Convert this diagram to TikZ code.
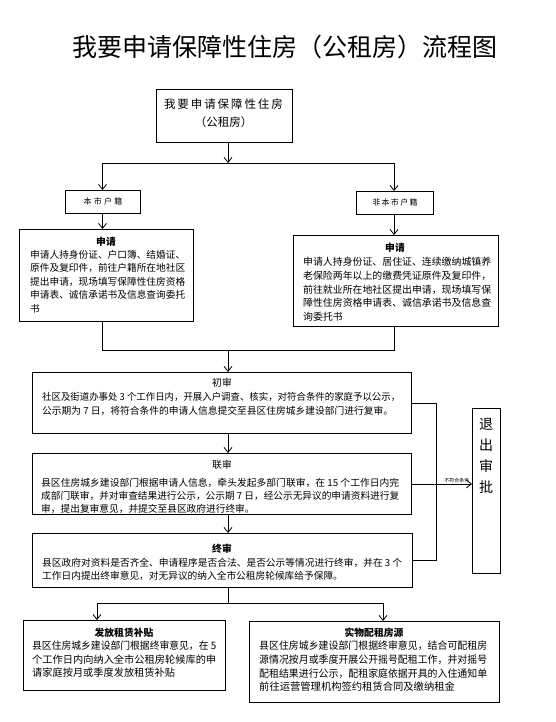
\documentclass[tikz,border=0pt]{standalone}
\usepackage{fontspec}
\usepackage{graphicx}
\setmainfont{Noto Sans CJK SC}
\usetikzlibrary{arrows.meta}
\newcommand\fitl[2]{\resizebox{#1}{\height}{#2}}
\begin{document}
\begin{tikzpicture}[x=1pt,y=-1pt,
  box/.style={draw=black, line width=0.9pt, inner sep=0pt, anchor=north west},
  conn/.style={draw=black, line width=0.8pt},
  arr/.style={conn, -{Straight Barb[length=5pt,width=8pt]}},
  body/.style={inner sep=0pt, anchor=north west, align=left},
  head/.style={inner sep=0pt, font=\fontsize{9.8}{12}\selectfont\bfseries},
  plainhead/.style={inner sep=0pt, font=\fontsize{9.8}{12}\selectfont},
]
\useasboundingbox[fill=white] (0,0) rectangle (556,722);

% title
\node[inner sep=0pt, font=\fontsize{25}{30}\selectfont] (title) at (285,47) {我要申请保障性住房（公租房）流程图};

% start box
\node[box, minimum width=136pt, minimum height=53pt] (start) at (156,89) {};
\node[inner sep=0pt, font=\fontsize{11.5}{14}\selectfont] (startA) at (223.5,104) {我\,要\,申\,请\,保\,障\,性\,住\,房};
\node[inner sep=0pt, font=\fontsize{11.5}{14}\selectfont] (startB) at (223.5,122) {（公租房）};

% household boxes
\node[box, minimum width=75pt, minimum height=23pt] (bsL) at (65,190) {};
\node[inner sep=0pt, font=\fontsize{8}{10}\selectfont] (bsLt) at (bsL.center) {本\hspace{2.3pt}市\hspace{2.3pt}户\hspace{2.3pt}籍};
\node[box, minimum width=77pt, minimum height=23pt] (bsR) at (356,191) {};
\node[inner sep=0pt, font=\fontsize{8}{10}\selectfont] (bsRt) at (bsR.center) {非\hspace{1.3pt}本\hspace{1.3pt}市\hspace{1.3pt}户\hspace{1.3pt}籍};

% application boxes
\node[box, minimum width=174pt, minimum height=92pt] (appL) at (19,229) {};
\node[head] (appLh) at (106,242) {申请};
\node[body, font=\fontsize{9.7}{13.5}\selectfont] (appLt) at (30,250) {\fitl{155pt}{申请人持身份证、户口簿、结婚证、}\\\fitl{155pt}{原件及复印件，前往户籍所在地社区}\\\fitl{155pt}{提出申请，现场填写保障性住房资格}\\\fitl{155pt}{申请表、诚信承诺书及信息查询委托}\\书};

\node[box, minimum width=205pt, minimum height=91pt] (appR) at (293,235) {};
\node[head] (appRh) at (395,248) {申请};
\node[body, font=\fontsize{9.9}{13.8}\selectfont] (appRt) at (303,257) {\fitl{188pt}{申请人持身份证、居住证、连续缴纳城镇养}\\\fitl{188pt}{老保险两年以上的缴费凭证原件及复印件，}\\\fitl{188pt}{前往就业所在地社区提出申请，现场填写保}\\\fitl{188pt}{障性住房资格申请表、诚信承诺书及信息查}\\询委托书};

% chu shen
\node[box, minimum width=379pt, minimum height=61pt] (chu) at (32,372) {};
\node[plainhead] (chuh) at (222,383) {初审};
\node[body, font=\fontsize{9.7}{14}\selectfont] (chut) at (42,392) {\fitl{358pt}{社区及街道办事处 3 个工作日内，开展入户调查、核实，对符合条件的家庭予以公示，}\\\fitl{351pt}{公示期为 7 日，将符合条件的申请人信息提交至县区住房城乡建设部门进行复审。}};

% lian shen
\node[box, minimum width=379pt, minimum height=61pt] (lian) at (32,453) {};
\node[plainhead] (lianh) at (222,465) {联审};
\node[body, font=\fontsize{9.7}{12.8}\selectfont] (liant) at (41,478) {\fitl{358pt}{县区住房城乡建设部门根据申请人信息，牵头发起多部门联审，在 15 个工作日内完}\\\fitl{358pt}{成部门联审，并对审查结果进行公示，公示期 7 日，经公示无异议的申请资料进行复}\\审，提出复审意见，并提交至县区政府进行终审。};

% zhong shen
\node[box, minimum width=380pt, minimum height=54pt] (zhong) at (32,533) {};
\node[head] (zhongh) at (222,549) {终审};
\node[body, font=\fontsize{9.7}{13}\selectfont] (zhongt) at (42,558) {\fitl{360pt}{县区政府对资料是否齐全、申请程序是否合法、是否公示等情况进行终审，并在 3 个}\\工作日内提出终审意见，对无异议的纳入全市公租房轮候库给予保障。};

% exit box
\node[box, minimum width=28pt, minimum height=165pt] (exit) at (472,408) {};
\node[inner sep=0pt, anchor=north, align=center, font=\fontsize{14}{21}\selectfont] (exitt) at (486,418) {退\\出\\审\\批};

% bottom boxes
\node[box, minimum width=202pt, minimum height=70pt] (fafang) at (23,620) {};
\node[head] (fafangh) at (124,633) {发放租赁补贴};
\node[body, font=\fontsize{10.2}{13.2}\selectfont] (fafangt) at (32,641) {\fitl{184pt}{县区住房城乡建设部门根据终审意见，在 5}\\\fitl{184pt}{个工作日内向纳入全市公租房轮候库的申}\\请家庭按月或季度发放租赁补贴};

\node[box, minimum width=250pt, minimum height=81pt] (shiwu) at (249,621) {};
\node[head] (shiwuh) at (374,633) {实物配租房源};
\node[body, font=\fontsize{10.3}{13.6}\selectfont] (shiwut) at (259,641) {\fitl{228pt}{县区住房城乡建设部门根据终审意见，结合可配租房}\\\fitl{228pt}{源情况按月或季度开展公开摇号配租工作，并对摇号}\\\fitl{228pt}{配租结果进行公示，配租家庭依据开具的入住通知单}\\前往运营管理机构签约租赁合同及缴纳租金};

% junction coordinates
\coordinate (j1) at (228,163);
\coordinate (hl) at (102.5,163);
\coordinate (hr) at (394,163);
\coordinate (m) at (228,350);
\coordinate (m2) at (228,603);
\coordinate (bl) at (97,603);
\coordinate (br) at (383,603);
\coordinate (rb) at (436,403);

% connectors
\draw[arr] (j1 |- start.south) -- (j1);
\draw[conn] (hl) -- (hr);
\draw[arr] (hl) -- (hl |- bsL.north);
\draw[arr] (hr) -- (hr |- bsR.north);
\draw[arr] (hl |- bsL.south) -- (hl |- appL.north);
\draw[arr] (hr |- bsR.south) -- (hr |- appR.north);
\draw[conn] (hl |- appL.south) -- (hl |- m) -- (hr |- m) -- (hr |- appR.south);
\draw[arr] (m) -- (m |- chu.north);
\draw[arr] (m |- chu.south) -- (m |- lian.north);
\draw[arr] (m |- lian.south) -- (m |- zhong.north);
\draw[conn] (m |- zhong.south) -- (m2);
\draw[conn] (bl) -- (br);
\draw[arr] (bl) -- (bl |- fafang.north);
\draw[arr] (br) -- (br |- shiwu.north);
\draw[conn] (chu.east) -- (chu.east -| rb) -- (zhong.east -| rb) -- (zhong.east);
\draw[arr] (lian.east) -- node[above=1pt, inner sep=0pt, pos=0.75, font=\fontsize{5}{6}\selectfont] (nolabel) {不符合条件} (lian.east -| exit.west);
\end{tikzpicture}
\end{document}
